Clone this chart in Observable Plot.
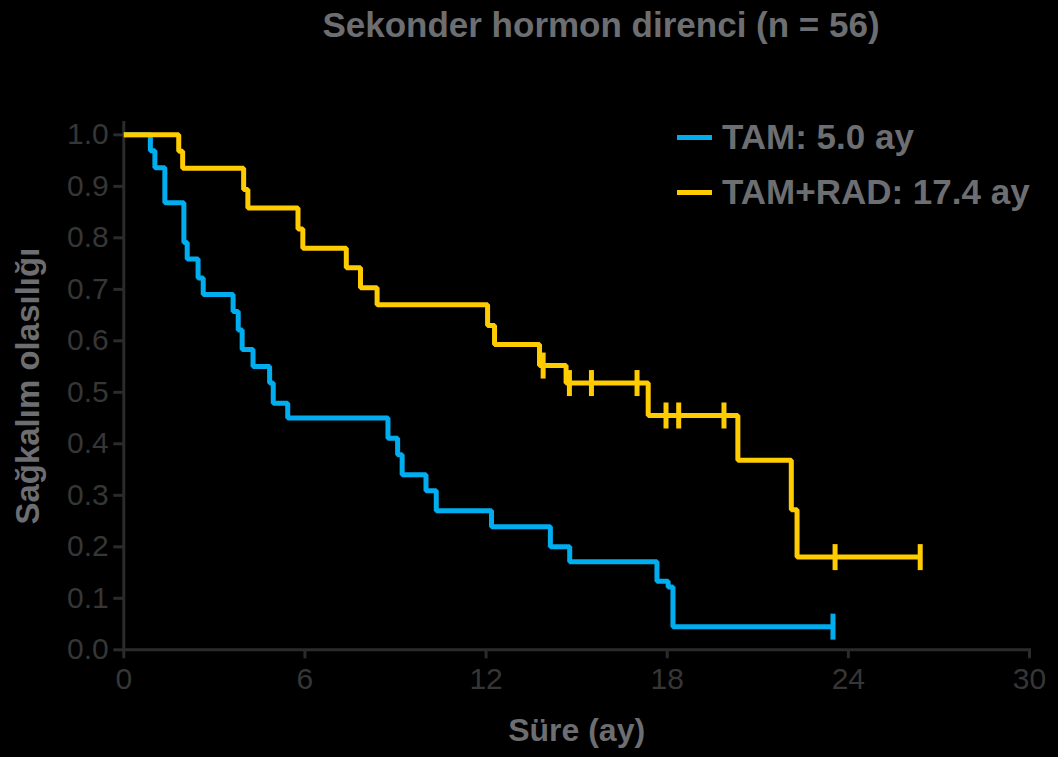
<!DOCTYPE html>
<html>
<head>
<meta charset="utf-8">
<script src="https://cdn.jsdelivr.net/npm/d3@7"></script>
<script src="https://cdn.jsdelivr.net/npm/@observablehq/plot@0.6"></script>
<style>
  html, body { margin: 0; padding: 0; background: #000; }
  #wrap { position: relative; width: 1058px; height: 757px; background: #000; overflow: hidden;
          font-family: "Liberation Sans", Arial, Helvetica, sans-serif; }
  #titlebar { position: relative; height: 60px; }
  #title { position: absolute; left: 601px; top: 25px; transform: translate(-50%, -50%);
           white-space: nowrap; font-size: 35px; font-weight: bold; color: #6d6e71; }
  .leg { position: absolute; left: 677px; height: 40px; display: flex; align-items: center;
         white-space: nowrap; font-size: 35px; font-weight: bold; color: #6d6e71; }
  .sw { width: 35px; height: 5px; margin-right: 10px; }
  #chart svg { display: block; }
</style>
</head>
<body>
<div id="wrap">
  <div id="titlebar"><div id="title"></div></div>
  <div id="chart"></div>
</div>
<script>
// ---- Data ----
const titleText = "Sekonder hormon direnci (n = 56)";
const xLabel = "Süre (ay)";
const yLabel = "Sağkalım olasılığı";
const xTicks = [0, 6, 12, 18, 24, 30];
const yTicks = [0, 0.1, 0.2, 0.3, 0.4, 0.5, 0.6, 0.7, 0.8, 0.9, 1.0];

const seriesNames = ["TAM: 5.0 ay", "TAM+RAD: 17.4 ay"];
const seriesColors = ["#00aeef", "#ffcc00"];

// TAM: event times (months) and survival after each step
const tamTime = [0, 0.88, 1.03, 1.36, 1.99, 2.10, 2.46, 2.63, 3.62, 3.79, 3.92, 4.28, 4.83, 4.95, 5.43,
                 8.75, 9.07, 9.22, 10.01, 10.35, 12.18, 14.13, 14.77, 17.66, 18.03, 18.19];
const tamSurv = [1, 0.969, 0.936, 0.868, 0.791, 0.759, 0.722, 0.690, 0.657, 0.621, 0.583, 0.550, 0.518, 0.479, 0.450,
                 0.411, 0.379, 0.340, 0.309, 0.270, 0.239, 0.200, 0.171, 0.133, 0.122, 0.045];
const tamCensor = [23.49];

// TAM+RAD
const radTime = [0, 1.82, 1.95, 3.97, 4.11, 5.77, 5.93, 7.37, 7.84, 8.39, 12.05, 12.28, 13.77, 14.65, 17.37,
                 20.34, 22.11, 22.30];
const radSurv = [1, 0.968, 0.935, 0.894, 0.858, 0.817, 0.780, 0.742, 0.703, 0.670, 0.630, 0.593, 0.552, 0.518, 0.455,
                 0.368, 0.272, 0.180];
const radCensor = [13.89, 14.76, 15.49, 17.0, 17.96, 18.38, 19.88, 23.56, 26.38];

// ---- Build tables ----
function survAt(times, surv, t) {
  let s = surv[0];
  for (let i = 0; i < times.length; i++) if (times[i] <= t) s = surv[i];
  return s;
}
function lineData(times, surv, cens) {
  const pts = times.map((t, i) => ({t, s: surv[i]}));
  const end = Math.max(...cens);
  pts.push({t: end, s: survAt(times, surv, end)});
  return pts;
}
function censData(times, surv, cens) {
  return cens.map(t => ({t, s: survAt(times, surv, t)}));
}
const tamLine = lineData(tamTime, tamSurv, tamCensor);
const radLine = lineData(radTime, radSurv, radCensor);
const tamCens = censData(tamTime, tamSurv, tamCensor);
const radCens = censData(radTime, radSurv, radCensor);

// vertical tick symbol for censored observations
const censorSymbol = {
  draw(ctx, size) {
    const h = Math.sqrt(size / Math.PI);
    ctx.moveTo(0, -h);
    ctx.lineTo(0, h);
  }
};

const axisColor = "#2b2b2b";
const tickTextColor = "#363636";
const labelColor = "#6d6e71";

document.getElementById("title").textContent = titleText;

const chart = Plot.plot({
  width: 1058,
  height: 697,
  marginLeft: 123.3,
  marginRight: 29,
  marginTop: 62,
  marginBottom: 107.7,
  x: {domain: [0, 30]},
  y: {domain: [0, 1.024]},
  style: {background: "#000", color: tickTextColor, fontFamily: "'Liberation Sans', Arial, Helvetica, sans-serif", fontSize: "30px"},
  marks: [
    Plot.frame({anchor: "left", stroke: axisColor, strokeWidth: 3}),
    Plot.frame({anchor: "bottom", stroke: axisColor, strokeWidth: 3}),
    Plot.axisX({ticks: xTicks, tickSize: 9, tickPadding: 9, stroke: axisColor, strokeWidth: 3,
                fill: tickTextColor, label: null, tickFormat: d => String(d)}),
    Plot.axisY({ticks: yTicks, tickSize: 10, tickPadding: 5, stroke: axisColor, strokeWidth: 3,
                fill: tickTextColor, label: null, tickFormat: d3.format(".1f")}),
    Plot.line(tamLine, {x: "t", y: "s", curve: "step-after", stroke: seriesColors[0], strokeWidth: 5,
                        strokeLinejoin: "miter", strokeLinecap: "butt"}),
    Plot.dot(tamCens, {x: "t", y: "s", symbol: censorSymbol, r: 13, stroke: seriesColors[0], strokeWidth: 5, fill: "none"}),
    Plot.line(radLine, {x: "t", y: "s", curve: "step-after", stroke: seriesColors[1], strokeWidth: 5,
                        strokeLinejoin: "miter", strokeLinecap: "butt"}),
    Plot.dot(radCens, {x: "t", y: "s", symbol: censorSymbol, r: 13, stroke: seriesColors[1], strokeWidth: 5, fill: "none"}),
    Plot.text([yLabel], {frameAnchor: "left", dx: -95, rotate: -90, text: d => d, fontSize: 33,
                         fontWeight: "bold", fill: labelColor, textAnchor: "middle", lineAnchor: "middle"}),
    Plot.text([xLabel], {frameAnchor: "bottom", dy: 81, text: d => d, fontSize: 32,
                         fontWeight: "bold", fill: labelColor, textAnchor: "middle", lineAnchor: "middle"})
  ]
});
document.getElementById("chart").appendChild(chart);

// legend (HTML overlay, inside plot area at top right)
const wrap = document.getElementById("wrap");
const legendTops = [117, 172];
seriesNames.forEach((name, i) => {
  const item = document.createElement("div");
  item.className = "leg";
  item.style.top = legendTops[i] + "px";
  const sw = document.createElement("span");
  sw.className = "sw";
  sw.style.background = seriesColors[i];
  const tx = document.createElement("span");
  tx.textContent = name;
  item.appendChild(sw);
  item.appendChild(tx);
  wrap.appendChild(item);
});
</script>
</body>
</html>
